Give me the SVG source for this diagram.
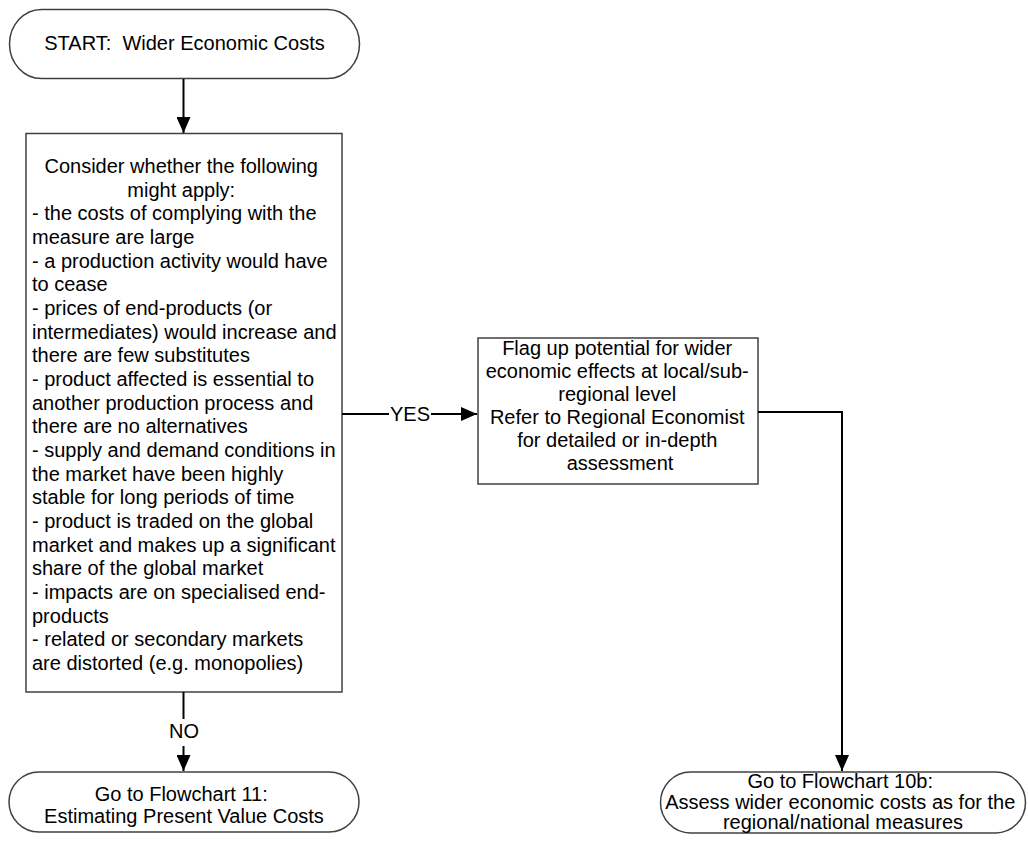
<svg xmlns="http://www.w3.org/2000/svg" width="1028" height="842" viewBox="0 0 1028 842">
<defs>
<style>
.shape{fill:#fff;stroke:#404040;stroke-width:1.5}
.t{font-family:"Liberation Sans",Arial,sans-serif;font-size:20px;fill:#000}
.c{text-anchor:middle}
.conn{fill:none;stroke:#000;stroke-width:2}
</style>
<marker id="ah" viewBox="0 0 16 14" refX="16" refY="7" markerWidth="16" markerHeight="14" markerUnits="userSpaceOnUse" orient="auto">
<path d="M0,0 L16,7 L0,14 Z" fill="#000"/>
</marker>
</defs>
<rect width="1028" height="842" fill="#fff"/>

<g id="start">
<rect class="shape" x="9.5" y="9.5" width="350" height="69" rx="32" ry="34.5"/>
<text class="t c" x="184.5" y="50">START:&#160; Wider Economic Costs</text>
</g>

<g id="consider">
<rect class="shape" x="26" y="133.5" width="316" height="558.5"/>
<text class="t">
<tspan x="184" y="173" text-anchor="middle">Consider whether the following</tspan>
<tspan x="184" y="196.7" text-anchor="middle">might apply:</tspan>
<tspan x="32" y="220.3" text-anchor="start">- the costs of complying with the</tspan>
<tspan x="32" y="244">measure are large</tspan>
<tspan x="32" y="267.7">- a production activity would have</tspan>
<tspan x="32" y="291.3">to cease</tspan>
<tspan x="32" y="315">- prices of end-products (or</tspan>
<tspan x="32" y="338.7">intermediates) would increase and</tspan>
<tspan x="32" y="362.3">there are few substitutes</tspan>
<tspan x="32" y="386">- product affected is essential to</tspan>
<tspan x="32" y="409.7">another production process and</tspan>
<tspan x="32" y="433.3">there are no alternatives</tspan>
<tspan x="32" y="457">- supply and demand conditions in</tspan>
<tspan x="32" y="480.7">the market have been highly</tspan>
<tspan x="32" y="504.3">stable for long periods of time</tspan>
<tspan x="32" y="528">- product is traded on the global</tspan>
<tspan x="32" y="551.7">market and makes up a significant</tspan>
<tspan x="32" y="575.3">share of the global market</tspan>
<tspan x="32" y="599">- impacts are on specialised end-</tspan>
<tspan x="32" y="622.7">products</tspan>
<tspan x="32" y="646.3">- related or secondary markets</tspan>
<tspan x="32" y="670">are distorted (e.g. monopolies)</tspan>
</text>
</g>

<g id="flag">
<rect class="shape" x="478" y="338" width="280" height="146"/>
<text class="t c">
<tspan x="620" y="355">Flag up potential for wider</tspan>
<tspan x="620" y="378">economic effects at local/sub-</tspan>
<tspan x="620" y="401">regional level</tspan>
<tspan x="620" y="424">Refer to Regional Economist</tspan>
<tspan x="620" y="447">for detailed or in-depth</tspan>
<tspan x="620" y="470">assessment</tspan>
</text>
</g>

<g id="goto11">
<rect class="shape" x="9" y="772" width="350" height="60" rx="30" ry="30"/>
<text class="t c">
<tspan x="184" y="801">Go to Flowchart 11:</tspan>
<tspan x="184" y="823">Estimating Present Value Costs</tspan>
</text>
</g>

<g id="goto10b">
<rect class="shape" x="660.5" y="772" width="365" height="61" rx="30" ry="30.5"/>
<text class="t c">
<tspan x="843" y="788">Go to Flowchart 10b:</tspan>
<tspan x="843" y="808.5">Assess wider economic costs as for the</tspan>
<tspan x="843" y="829">regional/national measures</tspan>
</text>
</g>

<g id="connectors">
<path class="conn" d="M183.5,79 V133" marker-end="url(#ah)"/>
<path class="conn" d="M342,414 H389"/>
<path class="conn" d="M431,414 H477" marker-end="url(#ah)"/>
<text class="t c" x="410" y="421">YES</text>
<path class="conn" d="M758,412 H842 V771" marker-end="url(#ah)"/>
<path class="conn" d="M183.5,692 V719"/>
<text class="t c" x="184" y="738">NO</text>
<path class="conn" d="M183.5,746 V771" marker-end="url(#ah)"/>
</g>
</svg>
